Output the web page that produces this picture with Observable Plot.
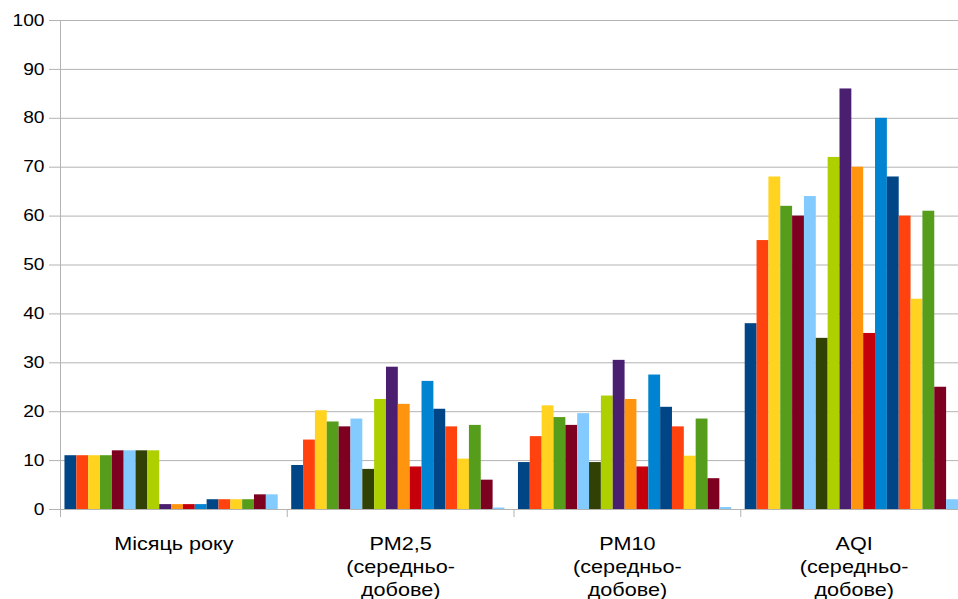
<!DOCTYPE html>
<html><head><meta charset="utf-8">
<script src="https://cdn.jsdelivr.net/npm/d3@7"></script>
<script src="https://cdn.jsdelivr.net/npm/@observablehq/plot@0.6"></script>
<style>
body{margin:0;background:#fff;}
#chart{width:958px;height:599px;overflow:hidden;}
#chart svg{max-width:none !important;width:967px;height:599px;}
</style></head><body><div id="chart"></div>
<script>
const categories = ["Місяць року", "PM2,5\n(середньо-\nдобове)", "PM10\n(середньо-\nдобове)", "AQI\n(середньо-\nдобове)"];
const seriesNames = ["Ряд 1","Ряд 2","Ряд 3","Ряд 4","Ряд 5","Ряд 6","Ряд 7","Ряд 8","Ряд 9","Ряд 10","Ряд 11","Ряд 12","Ряд 13","Ряд 14","Ряд 15","Ряд 16","Ряд 17","Ряд 18"];
const months = [11, 11, 11, 11, 12, 12, 12, 12, 1, 1, 1, 1, 2, 2, 2, 2, 3, 3];
const pm25 = [9.0, 14.2, 20.2, 17.9, 16.9, 18.5, 8.2, 22.5, 29.1, 21.5, 8.7, 26.2, 20.5, 16.9, 10.3, 17.2, 6.0, 0.3];
const pm10 = [9.6, 14.9, 21.2, 18.8, 17.2, 19.6, 9.6, 23.2, 30.5, 22.5, 8.7, 27.5, 20.9, 16.9, 10.9, 18.5, 6.3, 0.4];
const aqi = [38, 55, 68, 62, 60, 64, 35, 72, 86, 70, 36, 80, 68, 60, 43, 61, 25, 2];
const yTicks = [0, 10, 20, 30, 40, 50, 60, 70, 80, 90, 100];
const colors = ["#004586","#ff420e","#ffd320","#579d1c","#7e0021","#83caff","#314004","#aecf00","#4b1f6f","#ff950e","#c5000b","#0084d1","#004586","#ff420e","#ffd320","#579d1c","#7e0021","#83caff"];

const valuesByCategory = [months, pm25, pm10, aqi];
const rows = [];
categories.forEach((c, g) => valuesByCategory[g].forEach((v, s) => rows.push({category: c, g, series: seriesNames[s], value: v})));

// bands inside each group
const inner = d3.scaleBand().domain(seriesNames).range([0, 1]).paddingInner(0).paddingOuter(0.57).align(0.33);

const chart = Plot.plot({
  width: 967, height: 599,
  marginLeft: 60, marginRight: 0, marginTop: 20, marginBottom: 90,
  style: {fontFamily: "Liberation Sans, Arial, sans-serif", fontSize: "16px", color: "#000", background: "#fff"},
  x: {domain: [0, categories.length], label: null},
  y: {domain: [0, 100], label: null},
  color: {domain: seriesNames, range: colors},
  marks: [
    Plot.gridY(yTicks, {stroke: "#b3b3b3", strokeOpacity: 1}),
    Plot.rectY(rows, {x1: d => d.g + inner(d.series), x2: d => d.g + inner(d.series) + inner.bandwidth(), y: "value", fill: "series"}),
    Plot.ruleX([0], {stroke: "#b3b3b3"}),
    Plot.ruleY([0], {stroke: "#b3b3b3"}),
    Plot.axisY({ticks: yTicks, tickSize: 11, tickPadding: 5, stroke: "#b3b3b3", fill: "#000", fontSize: 16, label: null}),
    Plot.axisX({ticks: [0, 1, 2, 3, 4], tickSize: 8, tickFormat: () => "", stroke: "#b3b3b3", label: null}),
    Plot.axisX({ticks: categories.map((c, i) => i + 0.5), tickSize: 0, tickPadding: 24, tickFormat: d => categories[Math.floor(d)], lineHeight: 1.28, fontSize: 18, fill: "#000", label: null})
  ]
});
document.getElementById("chart").appendChild(chart);

// widen the glyphs horizontally about each label's anchor, as in the reference rendering
d3.select(chart).selectAll("text").each(function () {
  if (!this.textContent) return;
  const r = this.getBoundingClientRect();
  const anchor = getComputedStyle(this).textAnchor;
  const ax = anchor === "end" ? r.right : anchor === "middle" ? (r.left + r.right) / 2 : r.left;
  const parent = this.parentNode;
  const m = parent.getScreenCTM().inverse();
  const lx = new DOMPoint(ax, r.top).matrixTransform(m).x;
  const g = document.createElementNS("http://www.w3.org/2000/svg", "g");
  g.setAttribute("transform", `translate(${lx},0) scale(1.2,1) translate(${-lx},0)`);
  parent.insertBefore(g, this);
  g.appendChild(this);
});
</script></body></html>
